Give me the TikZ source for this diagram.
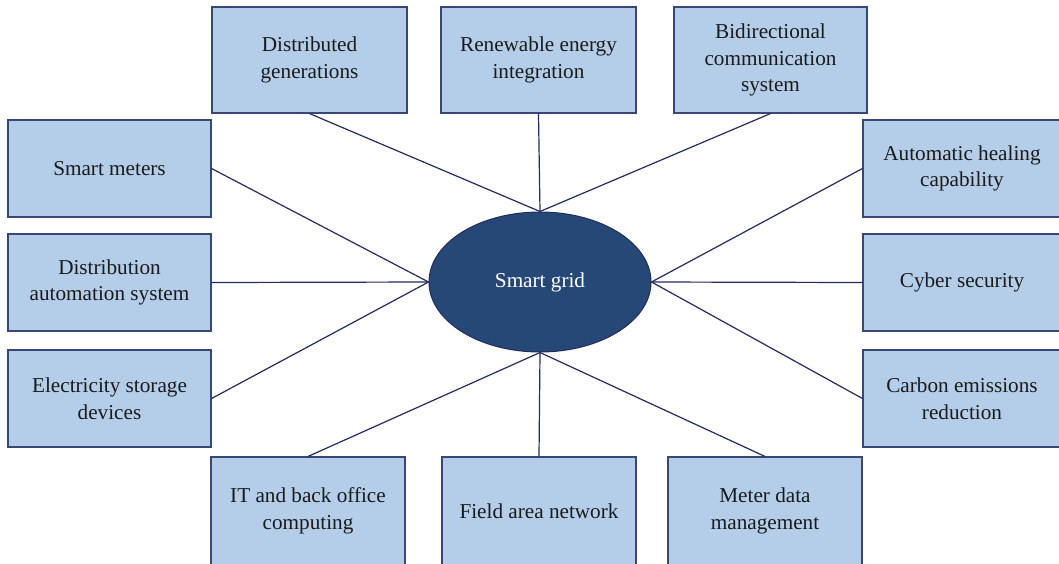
\documentclass[tikz,border=0pt]{standalone}
\usepackage{fontspec}
\setmainfont{Liberation Serif}
\usetikzlibrary{shapes.geometric}
\definecolor{boxfill}{HTML}{B4CEEA}
\definecolor{boxline}{HTML}{3A4676}
\definecolor{ellfill}{HTML}{264876}
\definecolor{conn}{HTML}{232C5E}
\definecolor{txt}{HTML}{1A1A1A}
\tikzset{
  item/.style={draw=boxline, line width=1.1pt, fill=boxfill, inner sep=0pt,
    align=center, text=txt, font=\fontsize{21.2}{26.5}\selectfont},
  itemtext/.style={align=center, text=txt, inner sep=0pt, font=\fontsize{21.2}{26.5}\selectfont},
  hub/.style={ellipse, draw=conn, line width=1pt, fill=ellfill, inner sep=0pt,
    minimum width=222pt, minimum height=140pt, text=white,
    font=\fontsize{21.2}{26.5}\selectfont},
  link/.style={draw=conn, line width=1.2pt}
}
\begin{document}
\begin{tikzpicture}[x=1pt,y=-1pt]
\clip (0,0) rectangle (1059,563);
\fill[white] (0,0) rectangle (1059,563);
% top row
\node[item, minimum width=195pt, minimum height=106pt] (dg) at (309.5,60) {Distributed\\generations};
\node[item, minimum width=195pt, minimum height=106pt] (re) at (538.5,60) {Renewable energy\\integration};
\node[item, minimum width=193pt, minimum height=106pt] (bc) at (770.5,60) {Bidirectional\\communication\\system};
% left column
\node[item, minimum width=203pt, minimum height=97pt] (sm) at (109.5,168.5) {Smart meters};
\node[item, minimum width=203pt, minimum height=97pt] (da) at (109.5,282.5) {Distribution\\automation system};
\node[item, minimum width=203pt, minimum height=97pt] (es) at (109.5,398.5) {Electricity storage\\devices};
% right column
\node[item, minimum width=198pt, minimum height=97pt] (ah) at (962,168.5) {Automatic healing\\capability};
\node[item, minimum width=198pt, minimum height=97pt] (cs) at (962,282.5) {Cyber security};
\node[item, minimum width=198pt, minimum height=97pt] (ce) at (962,398.5) {Carbon emissions\\reduction};
% bottom row (boxes run past the lower edge)
\node[item, minimum width=194pt, minimum height=112pt] (it) at (308,513) {};
\node[itemtext] (itt) at (308,511) {IT and back office\\computing};
\node[item, minimum width=194pt, minimum height=112pt] (fa) at (539,513) {};
\node[itemtext] (fat) at (539,511) {Field area network};
\node[item, minimum width=194pt, minimum height=112pt] (md) at (765,513) {};
\node[itemtext] (mdt) at (765,511) {Meter data\\management};
% hub
\node[hub] (sg) at (540,282) {Smart grid};
% connectors
\draw[link] (dg.south) -- (sg.north);
\draw[link] (re.south) -- (sg.north);
\draw[link] (bc.south) -- (sg.north);
\draw[link] (sm.east) -- (sg.west);
\draw[link] (da.east) -- (sg.west);
\draw[link] (es.east) -- (sg.west);
\draw[link] (ah.west) -- (sg.east);
\draw[link] (cs.west) -- (sg.east);
\draw[link] (ce.west) -- (sg.east);
\draw[link] (it.north) -- (sg.south);
\draw[link] (fa.north) -- (sg.south);
\draw[link] (md.north) -- (sg.south);
\end{tikzpicture}
\end{document}
